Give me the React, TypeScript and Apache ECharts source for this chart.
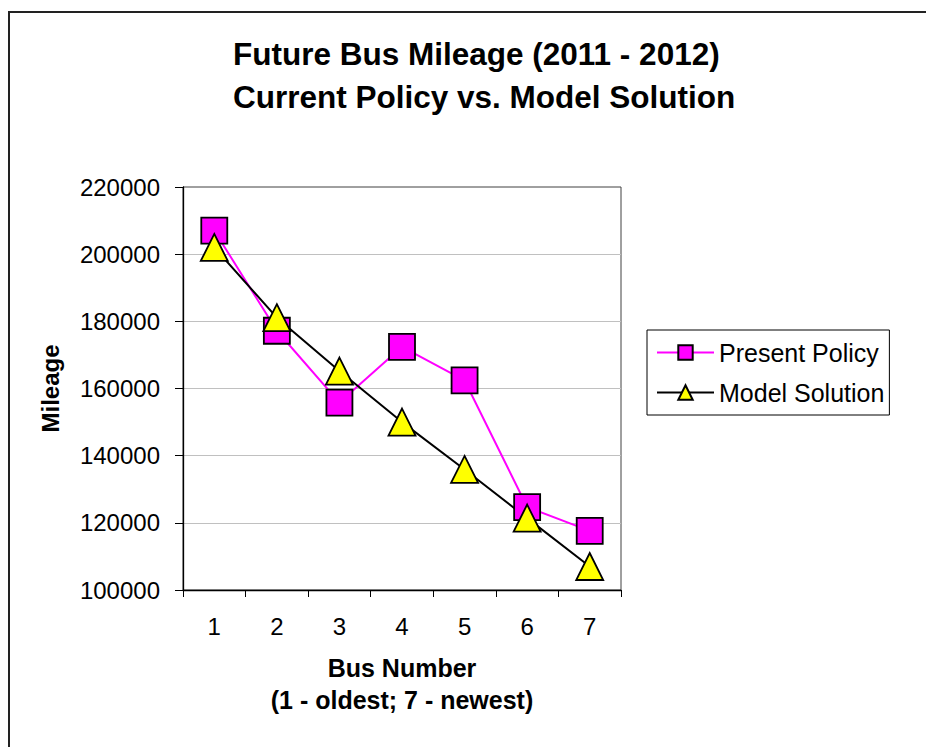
import React, { useEffect, useRef } from "react";
import * as echarts from "echarts";

const titleLines = ["Future Bus Mileage (2011 - 2012)", "Current Policy vs. Model Solution"];
const categories = ["1", "2", "3", "4", "5", "6", "7"];
const presentPolicy = [207000, 177200, 155800, 172400, 162400, 124700, 117600];
const modelSolution = [202000, 181100, 165200, 150000, 135900, 121400, 107000];
const seriesNames = ["Present Policy", "Model Solution"];
const xAxisTitle = "Bus Number\n(1 - oldest; 7 - newest)";
const yAxisTitle = "Mileage";
const yMin = 100000;
const yMax = 220000;
const yStep = 20000;

const FONT = '"Liberation Sans", Arial, Helvetica, sans-serif';

export default function App() {
  const ref = useRef<HTMLDivElement | null>(null);

  useEffect(() => {
    if (!ref.current) return;
    const chart = echarts.init(ref.current, null, { renderer: "svg" });
    chart.setOption({
      animation: false,
      backgroundColor: "#ffffff",
      textStyle: { fontFamily: FONT, color: "#000" },
      title: {
        text: titleLines.join("\n"),
        left: 233,
        top: 32,
        padding: 0,
        textStyle: {
          fontFamily: FONT,
          fontSize: 31.5,
          fontWeight: "bold",
          color: "#000",
          lineHeight: 43,
        },
        textAlign: "left",
      },
      graphic: [
        {
          type: "line",
          silent: true,
          shape: { x1: 9, y1: 11, x2: 9, y2: 747 },
          style: { stroke: "#222", lineWidth: 2 },
          z: 100,
        },
        {
          type: "line",
          silent: true,
          shape: { x1: 8, y1: 12, x2: 926, y2: 12 },
          style: { stroke: "#222", lineWidth: 2 },
          z: 100,
        },
      ],
      legend: {
        orient: "vertical",
        left: 647,
        top: 330,
        padding: [10, 5, 10, 9],
        borderColor: "#000",
        borderWidth: 1,
        itemWidth: 57,
        itemHeight: 18,
        itemGap: 15,
        textStyle: { fontFamily: FONT, fontSize: 25, color: "#000", lineHeight: 24 },
        data: seriesNames,
      },
      grid: {
        left: 183,
        top: 187,
        width: 438,
        height: 403,
        show: true,
        borderColor: "#404040",
        borderWidth: 1,
        backgroundColor: "#fff",
      },
      xAxis: {
        type: "category",
        data: categories,
        boundaryGap: true,
        name: xAxisTitle,
        nameLocation: "middle",
        nameGap: 62,
        nameTextStyle: {
          fontFamily: FONT,
          fontSize: 25,
          fontWeight: "bold",
          color: "#000",
          lineHeight: 32,
        },
        axisLine: { show: true, lineStyle: { color: "#000", width: 1.3 } },
        axisTick: { show: true, length: 7, lineStyle: { color: "#000", width: 1 } },
        axisLabel: { fontFamily: FONT, fontSize: 24, color: "#000", margin: 24 },
        splitLine: { show: false },
      },
      yAxis: {
        type: "value",
        min: yMin,
        max: yMax,
        interval: yStep,
        name: yAxisTitle,
        nameLocation: "middle",
        nameGap: 121,
        nameRotate: 90,
        nameTextStyle: { fontFamily: FONT, fontSize: 24, fontWeight: "bold", color: "#000" },
        axisLine: { show: true, lineStyle: { color: "#000", width: 1.3 } },
        axisTick: { show: true, length: 8, lineStyle: { color: "#000", width: 1 } },
        axisLabel: {
          fontFamily: FONT,
          fontSize: 24,
          color: "#000",
          margin: 23,
          formatter: (v: number) => String(v),
        },
        splitLine: {
          show: true,
          showMinLine: false,
          showMaxLine: false,
          lineStyle: { color: "#c0c0c0", width: 1 },
        },
      },
      series: [
        {
          name: seriesNames[0],
          type: "line",
          data: presentPolicy,
          symbol: "rect",
          symbolSize: 26,
          lineStyle: { color: "#ff00ff", width: 2 },
          itemStyle: { color: "#ff00ff", borderColor: "#000", borderWidth: 1.8 },
        },
        {
          name: seriesNames[1],
          type: "line",
          data: modelSolution,
          symbol: "triangle",
          symbolSize: 27,
          lineStyle: { color: "#000", width: 2 },
          itemStyle: { color: "#ffff00", borderColor: "#000", borderWidth: 1.8 },
        },
      ],
    });
    return () => chart.dispose();
  }, []);

  return (
    <div
      ref={ref}
      style={{ position: "absolute", left: 0, top: 0, width: 926, height: 747 }}
    />
  );
}
